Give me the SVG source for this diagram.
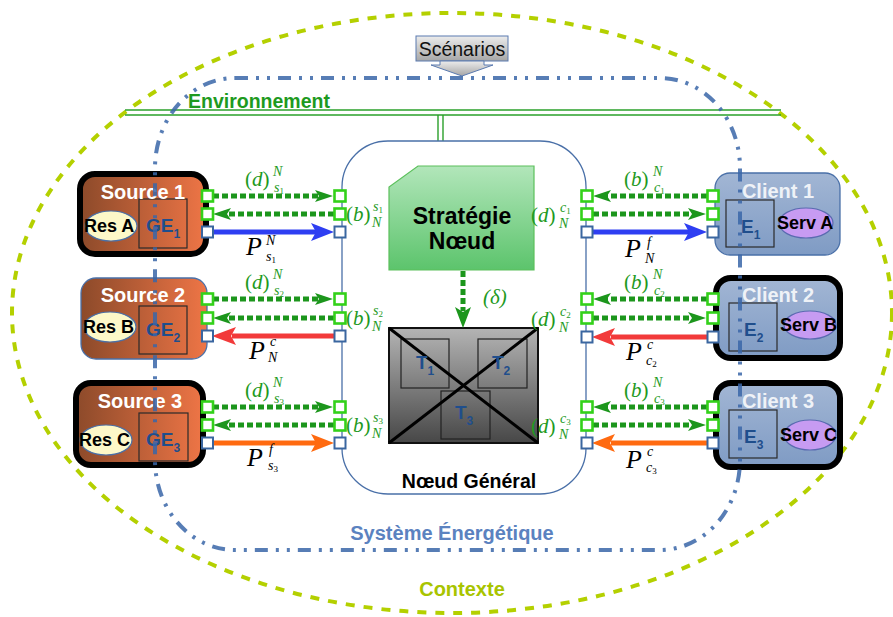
<svg xmlns="http://www.w3.org/2000/svg" width="893" height="617" viewBox="0 0 893 617">
<defs>
<linearGradient id="srcG" x1="0" y1="0" x2="1" y2="0"><stop offset="0" stop-color="#8c4a2a"/><stop offset="1" stop-color="#ee7546"/></linearGradient>
<linearGradient id="cliG" x1="0" y1="0" x2="0" y2="1"><stop offset="0" stop-color="#a2b6d4"/><stop offset="1" stop-color="#7f9bc4"/></linearGradient>
<linearGradient id="strG" x1="0" y1="0" x2="0" y2="1"><stop offset="0" stop-color="#b2e6ba"/><stop offset="1" stop-color="#5cc46c"/></linearGradient>
<linearGradient id="trG" x1="0" y1="0" x2="0" y2="1"><stop offset="0" stop-color="#b4b4b4"/><stop offset="1" stop-color="#474747"/></linearGradient>
<linearGradient id="scG" x1="0" y1="0" x2="0" y2="1"><stop offset="0" stop-color="#ececec"/><stop offset="1" stop-color="#a6a6a6"/></linearGradient>
</defs>
<style>
.lbl{font-family:"Liberation Sans",Arial,sans-serif;font-weight:bold}
.src{fill:url(#srcG)}
.cli{fill:url(#cliG)}
.thick{fill:none;stroke:#000;stroke-width:6}
.thin{fill:none;stroke:#4a70a8;stroke-width:1.3}
.inbox{fill:none;stroke:#2a2a2a;stroke-width:1.2}
.res{fill:#fdf8c8;stroke:#4a70a8;stroke-width:1.2}
.serv{fill:#c79bf2;stroke:#5a6ab0;stroke-width:1.2}
.ntitle{font-family:"Liberation Sans",Arial,sans-serif;font-weight:bold;font-size:20px;fill:#fff;text-anchor:middle}
.small{font-family:"Liberation Sans",Arial,sans-serif;font-weight:bold;font-size:18px;fill:#000}
.ge{font-family:"Liberation Sans",Arial,sans-serif;font-weight:bold;font-size:19px;fill:#1f4e8c}
.m{font-family:"Liberation Serif","Times New Roman",serif;font-size:21px}
.s{font-size:14px;font-style:italic}
.d{font-size:9px;font-style:normal}
.P{font-size:26px;font-style:italic}
.sf{font-family:"Liberation Serif","Times New Roman",serif}
.gt{fill:#1e9a1e}
.bt{fill:#000}
.gp{fill:#fff;stroke:#33d11a;stroke-width:2.6}
.bp{fill:#fff;stroke:#3a66a0;stroke-width:2}
.gd{stroke:#1c961c;stroke-width:5;stroke-dasharray:6 3;fill:none}
.gh{fill:#1c961c}
</style>

<g id="contexte">
<ellipse cx="452" cy="313" rx="440" ry="300" fill="none" stroke="#b4d000" stroke-width="4" stroke-dasharray="9 9"/>
<text x="462" y="596" class="lbl" font-size="20" fill="#a8c400" text-anchor="middle">Contexte</text>
</g>

<g id="environnement">
<line x1="125" y1="110" x2="781" y2="110" stroke="#2aa02a" stroke-width="1.4"/>
<line x1="125" y1="115" x2="781" y2="115" stroke="#2aa02a" stroke-width="1.4"/>
<line x1="438" y1="115" x2="438" y2="141" stroke="#2aa02a" stroke-width="1.4"/>
<line x1="443" y1="115" x2="443" y2="141" stroke="#2aa02a" stroke-width="1.4"/>
<text x="188" y="108" class="lbl" font-size="19.5" fill="#1e9a1e">Environnement</text>
</g>

<g id="scenarios">
<rect x="416" y="36" width="92" height="25" fill="url(#scG)" stroke="#5a7ab0" stroke-width="1"/>
<polygon points="440,61 484,61 484,65 493,65 462,76 431,65 440,65" fill="url(#scG)" stroke="#5a7ab0" stroke-width="1"/>
<text x="462" y="56" font-family="Liberation Sans, Arial, sans-serif" font-size="19.5" fill="#111" text-anchor="middle">Scénarios</text>
</g>

<g id="noeud-general">
<rect x="342" y="141" width="244" height="353" rx="46" fill="#fff" stroke="#4a70a8" stroke-width="1.3"/>
<text x="469" y="488" class="lbl" font-size="19.5" fill="#000" text-anchor="middle">Nœud Général</text>
</g>

<g id="strategie">
<polygon points="418,166 534,166 534,270 389,270 389,187" fill="url(#strG)" stroke="#5cc05c" stroke-width="1.2"/>
<text x="462" y="224" class="lbl" font-size="23" fill="#000" text-anchor="middle">Stratégie</text>
<text x="462" y="249" class="lbl" font-size="23" fill="#000" text-anchor="middle">Nœud</text>
</g>

<g id="transfo">
<rect x="389" y="328" width="149" height="115" fill="url(#trG)" stroke="#111" stroke-width="2"/>
<rect x="401" y="339" width="48" height="49" fill="none" stroke="#222" stroke-width="1.2"/>
<rect x="478" y="339" width="49" height="49" fill="none" stroke="#222" stroke-width="1.2"/>
<rect x="441" y="391" width="49" height="48" fill="none" stroke="#222" stroke-width="1.2"/>
<line x1="389" y1="328" x2="538" y2="443" stroke="#000" stroke-width="3"/>
<line x1="538" y1="328" x2="389" y2="443" stroke="#000" stroke-width="3"/>
<text x="416" y="369" class="ge">T<tspan font-size="12" dy="6">1</tspan></text>
<text x="492" y="369" class="ge">T<tspan font-size="12" dy="6">2</tspan></text>
<text x="455" y="419" class="ge">T<tspan font-size="12" dy="6">3</tspan></text>
</g>

<g id="source1">
<rect x="80" y="174" width="126" height="80" rx="15" class="src"/>
<ellipse cx="111" cy="226" rx="26" ry="15" class="res"/>
<rect x="139" y="199" width="48" height="49" class="inbox"/>
<text x="143" y="199" class="ntitle">Source 1</text>
<text x="84" y="232" class="small">Res A</text>
<text x="146" y="232" class="ge">GE<tspan font-size="12" dy="6">1</tspan></text>
<rect x="80" y="174" width="126" height="80" rx="15" class="thick"/>
</g>
<g id="source2">
<rect x="81" y="278" width="126" height="81" rx="15" class="src"/>
<ellipse cx="110" cy="327" rx="26" ry="15" class="res"/>
<rect x="139" y="306" width="48" height="48" class="inbox"/>
<text x="143" y="302" class="ntitle">Source 2</text>
<text x="83" y="333" class="small">Res B</text>
<text x="146" y="336" class="ge">GE<tspan font-size="12" dy="6">2</tspan></text>
<rect x="81" y="278" width="126" height="81" rx="15" class="thin"/>
</g>
<g id="source3">
<rect x="76" y="383" width="127" height="82" rx="15" class="src"/>
<ellipse cx="106" cy="440" rx="26" ry="15" class="res"/>
<rect x="139" y="413" width="49" height="48" class="inbox"/>
<text x="140" y="408" class="ntitle">Source 3</text>
<text x="79" y="446" class="small">Res C</text>
<text x="146" y="446" class="ge">GE<tspan font-size="12" dy="6">3</tspan></text>
<rect x="76" y="383" width="127" height="82" rx="15" class="thick"/>
</g>

<g id="client1">
<rect x="715" y="173" width="125" height="82" rx="15" class="cli"/>
<rect x="726" y="200" width="48" height="47" class="inbox"/>
<ellipse cx="806" cy="223" rx="27" ry="15" class="serv"/>
<text x="778" y="198" class="ntitle" font-size="19.5" fill-opacity="0.85">Client 1</text>
<text x="741" y="233" class="ge">E<tspan font-size="12" dy="6">1</tspan></text>
<text x="777" y="229" class="small">Serv A</text>
<rect x="715" y="173" width="125" height="82" rx="15" class="thin"/>
</g>
<g id="client2">
<rect x="716" y="278" width="124" height="80" rx="15" class="cli"/>
<rect x="729" y="303" width="48" height="48" class="inbox"/>
<ellipse cx="810" cy="325" rx="26" ry="14" class="serv"/>
<text x="778" y="302" class="ntitle" font-size="19.5" fill-opacity="0.85">Client 2</text>
<text x="744" y="336" class="ge">E<tspan font-size="12" dy="6">2</tspan></text>
<text x="780" y="331" class="small">Serv B</text>
<rect x="716" y="278" width="124" height="80" rx="15" class="thick"/>
</g>
<g id="client3">
<rect x="716" y="383" width="124" height="84" rx="15" class="cli"/>
<rect x="729" y="410" width="48" height="48" class="inbox"/>
<ellipse cx="810" cy="435" rx="26" ry="15" class="serv"/>
<text x="778" y="408" class="ntitle" font-size="19.5" fill-opacity="0.85">Client 3</text>
<text x="744" y="443" class="ge">E<tspan font-size="12" dy="6">3</tspan></text>
<text x="780" y="441" class="small">Serv C</text>
<rect x="716" y="383" width="124" height="84" rx="15" class="thick"/>
</g>

<g id="systeme">
<rect x="155" y="78" width="585" height="472" rx="80" ry="90" fill="none" stroke="#3a66a8" stroke-width="4" stroke-dasharray="13 8 3 8 3 8" opacity="0.85"/>
<text x="452" y="540" class="lbl" font-size="20" fill="#5b82c0" text-anchor="middle">Système Énergétique</text>
</g>

<g id="connectors">
<line x1="463" y1="271" x2="463" y2="311" class="gd"/>
<polygon points="463,328 455,307 463,312 471,307" class="gh"/>
<text x="483" y="304" class="m gt" font-style="italic">(δ)</text>

<line x1="213" y1="196" x2="320" y2="196" class="gd"/>
<polygon points="333,196 315,190 319,196 315,202" class="gh"/>
<line x1="334" y1="214" x2="227" y2="214" class="gd"/>
<polygon points="213,214 231,208 227,214 231,220" class="gh"/>
<line x1="213" y1="232" x2="316" y2="232" stroke="#2e3ef2" stroke-width="5"/>
<polygon points="334,232 311,223 316,232 311,241" fill="#2e3ef2"/>

<line x1="213" y1="299" x2="320" y2="299" class="gd"/>
<polygon points="333,299 315,293 319,299 315,305" class="gh"/>
<line x1="334" y1="318" x2="227" y2="318" class="gd"/>
<polygon points="213,318 231,312 227,318 231,324" class="gh"/>
<line x1="232" y1="336" x2="334" y2="336" stroke="#f23a3a" stroke-width="5"/>
<polygon points="212,336 236,327 231,336 236,345" fill="#f23a3a"/>

<line x1="213" y1="407" x2="320" y2="407" class="gd"/>
<polygon points="333,407 315,401 319,407 315,413" class="gh"/>
<line x1="334" y1="425" x2="227" y2="425" class="gd"/>
<polygon points="213,425 231,419 227,425 231,431" class="gh"/>
<line x1="213" y1="443" x2="316" y2="443" stroke="#ff6a10" stroke-width="5"/>
<polygon points="334,443 311,434 316,443 311,452" fill="#ff6a10"/>

<line x1="707" y1="196" x2="607" y2="196" class="gd"/>
<polygon points="593,196 611,190 607,196 611,202" class="gh"/>
<line x1="593" y1="214" x2="693" y2="214" class="gd"/>
<polygon points="706,214 688,208 692,214 688,220" class="gh"/>
<line x1="593" y1="232" x2="689" y2="232" stroke="#2e3ef2" stroke-width="5"/>
<polygon points="707,232 684,223 689,232 684,241" fill="#2e3ef2"/>

<line x1="707" y1="299" x2="607" y2="299" class="gd"/>
<polygon points="593,299 611,293 607,299 611,305" class="gh"/>
<line x1="593" y1="318" x2="693" y2="318" class="gd"/>
<polygon points="706,318 688,312 692,318 688,324" class="gh"/>
<line x1="611" y1="337" x2="707" y2="337" stroke="#f23a3a" stroke-width="5"/>
<polygon points="592,337 615,328 610,337 615,346" fill="#f23a3a"/>

<line x1="707" y1="407" x2="607" y2="407" class="gd"/>
<polygon points="593,407 611,401 607,407 611,413" class="gh"/>
<line x1="593" y1="425" x2="693" y2="425" class="gd"/>
<polygon points="706,425 688,419 692,425 688,431" class="gh"/>
<line x1="611" y1="443" x2="707" y2="443" stroke="#ff6a10" stroke-width="5"/>
<polygon points="592,443 615,434 610,443 615,452" fill="#ff6a10"/>

<g class="gp">
<rect x="202" y="190.5" width="11" height="11"/><rect x="202" y="208.5" width="11" height="11"/>
<rect x="334.5" y="190.5" width="11" height="11"/><rect x="334.5" y="208.5" width="11" height="11"/>
<rect x="202" y="293.5" width="11" height="11"/><rect x="202" y="312.5" width="11" height="11"/>
<rect x="334.5" y="293.5" width="11" height="11"/><rect x="334.5" y="312.5" width="11" height="11"/>
<rect x="202" y="401.5" width="11" height="11"/><rect x="202" y="419.5" width="11" height="11"/>
<rect x="334.5" y="401.5" width="11" height="11"/><rect x="334.5" y="419.5" width="11" height="11"/>
<rect x="581.5" y="190.5" width="11" height="11"/><rect x="581.5" y="208.5" width="11" height="11"/>
<rect x="707.5" y="190.5" width="11" height="11"/><rect x="707.5" y="208.5" width="11" height="11"/>
<rect x="581.5" y="293.5" width="11" height="11"/><rect x="581.5" y="312.5" width="11" height="11"/>
<rect x="707.5" y="293.5" width="11" height="11"/><rect x="707.5" y="312.5" width="11" height="11"/>
<rect x="581.5" y="401.5" width="11" height="11"/><rect x="581.5" y="419.5" width="11" height="11"/>
<rect x="707.5" y="401.5" width="11" height="11"/><rect x="707.5" y="419.5" width="11" height="11"/>
</g>
<g class="bp">
<rect x="202" y="226.5" width="11" height="11"/><rect x="334.5" y="226.5" width="11" height="11"/>
<rect x="202" y="330.5" width="11" height="11"/><rect x="334.5" y="330.5" width="11" height="11"/>
<rect x="202" y="437.5" width="11" height="11"/><rect x="334.5" y="437.5" width="11" height="11"/>
<rect x="581.5" y="226.5" width="11" height="11"/><rect x="707.5" y="226.5" width="11" height="11"/>
<rect x="581.5" y="331.5" width="11" height="11"/><rect x="707.5" y="331.5" width="11" height="11"/>
<rect x="581.5" y="437.5" width="11" height="11"/><rect x="707.5" y="437.5" width="11" height="11"/>
</g>

<!-- labels left -->
<text class="m gt" x="245" y="186">(<tspan font-style="italic">d</tspan>)<tspan class="s" x="273" y="176">N</tspan><tspan class="s" x="274" y="192">s</tspan><tspan class="d" dy="2">1</tspan></text>
<text class="m gt" x="346" y="221">(<tspan font-style="italic">b</tspan>)<tspan class="s" x="373" y="211">s</tspan><tspan class="d" dy="2">1</tspan><tspan class="s" x="372" y="227">N</tspan></text>
<text class="sf bt" x="246" y="255"><tspan class="P">P</tspan><tspan class="s" x="266" y="245">N</tspan><tspan class="s" x="266" y="261">s</tspan><tspan class="d" dy="2">1</tspan></text>

<text class="m gt" x="245" y="289">(<tspan font-style="italic">d</tspan>)<tspan class="s" x="273" y="279">N</tspan><tspan class="s" x="274" y="295">s</tspan><tspan class="d" dy="2">2</tspan></text>
<text class="m gt" x="346" y="325">(<tspan font-style="italic">b</tspan>)<tspan class="s" x="373" y="315">s</tspan><tspan class="d" dy="2">2</tspan><tspan class="s" x="372" y="331">N</tspan></text>
<text class="sf bt" x="249" y="359"><tspan class="P">P</tspan><tspan class="s" x="270" y="346">c</tspan><tspan class="s" x="268" y="362">N</tspan></text>

<text class="m gt" x="245" y="397">(<tspan font-style="italic">d</tspan>)<tspan class="s" x="273" y="387">N</tspan><tspan class="s" x="274" y="403">s</tspan><tspan class="d" dy="2">3</tspan></text>
<text class="m gt" x="346" y="432">(<tspan font-style="italic">b</tspan>)<tspan class="s" x="373" y="422">s</tspan><tspan class="d" dy="2">3</tspan><tspan class="s" x="372" y="438">N</tspan></text>
<text class="sf bt" x="247" y="466"><tspan class="P">P</tspan><tspan class="s" x="269" y="454">f</tspan><tspan class="s" x="268" y="470">s</tspan><tspan class="d" dy="2">3</tspan></text>

<!-- labels right -->
<text class="m gt" x="624" y="186">(<tspan font-style="italic">b</tspan>)<tspan class="s" x="653" y="176">N</tspan><tspan class="s" x="654" y="192">c</tspan><tspan class="d" dy="2">1</tspan></text>
<text class="m gt" x="531" y="222">(<tspan font-style="italic">d</tspan>)<tspan class="s" x="560" y="212">c</tspan><tspan class="d" dy="2">1</tspan><tspan class="s" x="559" y="228">N</tspan></text>
<text class="sf bt" x="625" y="257"><tspan class="P">P</tspan><tspan class="s" x="647" y="247">f</tspan><tspan class="s" x="645" y="263">N</tspan></text>

<text class="m gt" x="624" y="289">(<tspan font-style="italic">b</tspan>)<tspan class="s" x="653" y="279">N</tspan><tspan class="s" x="654" y="295">c</tspan><tspan class="d" dy="2">2</tspan></text>
<text class="m gt" x="531" y="326">(<tspan font-style="italic">d</tspan>)<tspan class="s" x="560" y="316">c</tspan><tspan class="d" dy="2">2</tspan><tspan class="s" x="559" y="332">N</tspan></text>
<text class="sf bt" x="626" y="360"><tspan class="P">P</tspan><tspan class="s" x="647" y="349">c</tspan><tspan class="s" x="646" y="365">c</tspan><tspan class="d" dy="2">2</tspan></text>

<text class="m gt" x="624" y="397">(<tspan font-style="italic">b</tspan>)<tspan class="s" x="653" y="387">N</tspan><tspan class="s" x="654" y="403">c</tspan><tspan class="d" dy="2">3</tspan></text>
<text class="m gt" x="531" y="433">(<tspan font-style="italic">d</tspan>)<tspan class="s" x="560" y="423">c</tspan><tspan class="d" dy="2">3</tspan><tspan class="s" x="559" y="439">N</tspan></text>
<text class="sf bt" x="626" y="468"><tspan class="P">P</tspan><tspan class="s" x="647" y="456">c</tspan><tspan class="s" x="646" y="472">c</tspan><tspan class="d" dy="2">3</tspan></text>
</g>
</svg>
